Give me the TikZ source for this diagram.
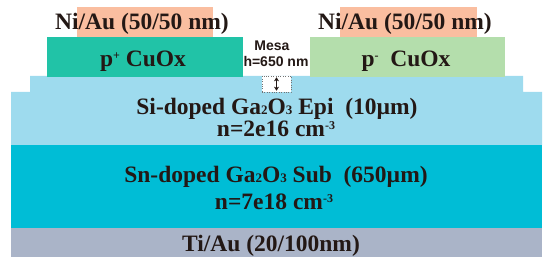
\documentclass[tikz,border=0pt]{standalone}
\usepackage{fontspec}
\setmainfont{Liberation Serif}
\setsansfont{Liberation Sans}
\usetikzlibrary{arrows.meta, positioning}
\definecolor{niau}{RGB}{250,190,160}
\definecolor{pplus}{RGB}{33,195,167}
\definecolor{pminus}{RGB}{180,222,172}
\definecolor{epi}{RGB}{158,219,238}
\definecolor{sub}{RGB}{0,189,214}
\definecolor{tiau}{RGB}{170,180,200}
\definecolor{ink}{RGB}{35,24,21}
\newcommand{\dig}[1]{{\fontsize{13}{13}\selectfont #1}}
\newcommand{\upr}[1]{\raisebox{7.5pt}{\fontsize{12}{12}\selectfont #1}}

\begin{document}
\begin{tikzpicture}[x=1pt, y=-1pt,
  lbl/.style={font=\fontsize{23.5}{26}\selectfont\bfseries, text=ink, inner sep=0pt, anchor=base},
  note/.style={font=\fontsize{14}{15}\sffamily\bfseries, text=ink, inner sep=0pt, anchor=base}]
  \useasboundingbox (0,0) rectangle (550,264);
  % Ti/Au back contact
  \fill[tiau] (11,228) rectangle (542,257);
  % Sn-doped substrate
  \fill[sub] (11,145) rectangle (542,228);
  % Si-doped epi with mesa step
  \fill[epi] (30,76) -- (523,76) -- (523,92) -- (542,92) -- (542,145) -- (11,145) -- (11,92) -- (30,92) -- cycle;
  % CuOx layers
  \fill[pplus] (47,37) rectangle (243,77);
  \fill[pminus] (310,37) rectangle (505,77);
  % Ni/Au pads
  \fill[niau] (77,7) rectangle (213,37);
  \fill[niau] (340,7) rectangle (477,37);
  % labels
  \node[lbl] (padL) at (142,30) {Ni/Au (50/50 nm)};
  \node[lbl] (padR) at (405,30) {Ni/Au (50/50 nm)};
  \node[lbl] (cuoxL) at (143,67) {p\upr{+} CuOx};
  \node[lbl] (cuoxR) at (406,67) {p\upr{-}\ \ CuOx};
  \node[lbl] (epiA) at (277,115) {Si-doped Ga\dig{2}O\dig{3} Epi\ \ (10µm)};
  \node[lbl] (epiB) at (276,137) {n=2e16 cm\upr{-3}};
  \node[lbl] (subA) at (276,183) {Sn-doped Ga\dig{2}O\dig{3} Sub\ \ (650µm)};
  \node[lbl] (subB) at (274,210) {n=7e18 cm\upr{-3}};
  \node[lbl] (back) at (271,252) {Ti/Au (20/100nm)};
  % Mesa height
  \node[note] (mesa) at (272,51) {Mesa};
  \node[note] (mesaH) at (276,67) {h=650 nm};
  \node[draw=black!55, dotted, fill=white, minimum width=29pt, minimum height=16pt, inner sep=0pt] (mesabox) at (276.5,84) {};
  \draw[{Stealth[length=4pt,width=5pt]}-{Stealth[length=4pt,width=5pt]}, line width=1.3pt, ink] ([yshift=-1.5pt]mesabox.north) -- ([yshift=1.5pt]mesabox.south);
\end{tikzpicture}
\end{document}
